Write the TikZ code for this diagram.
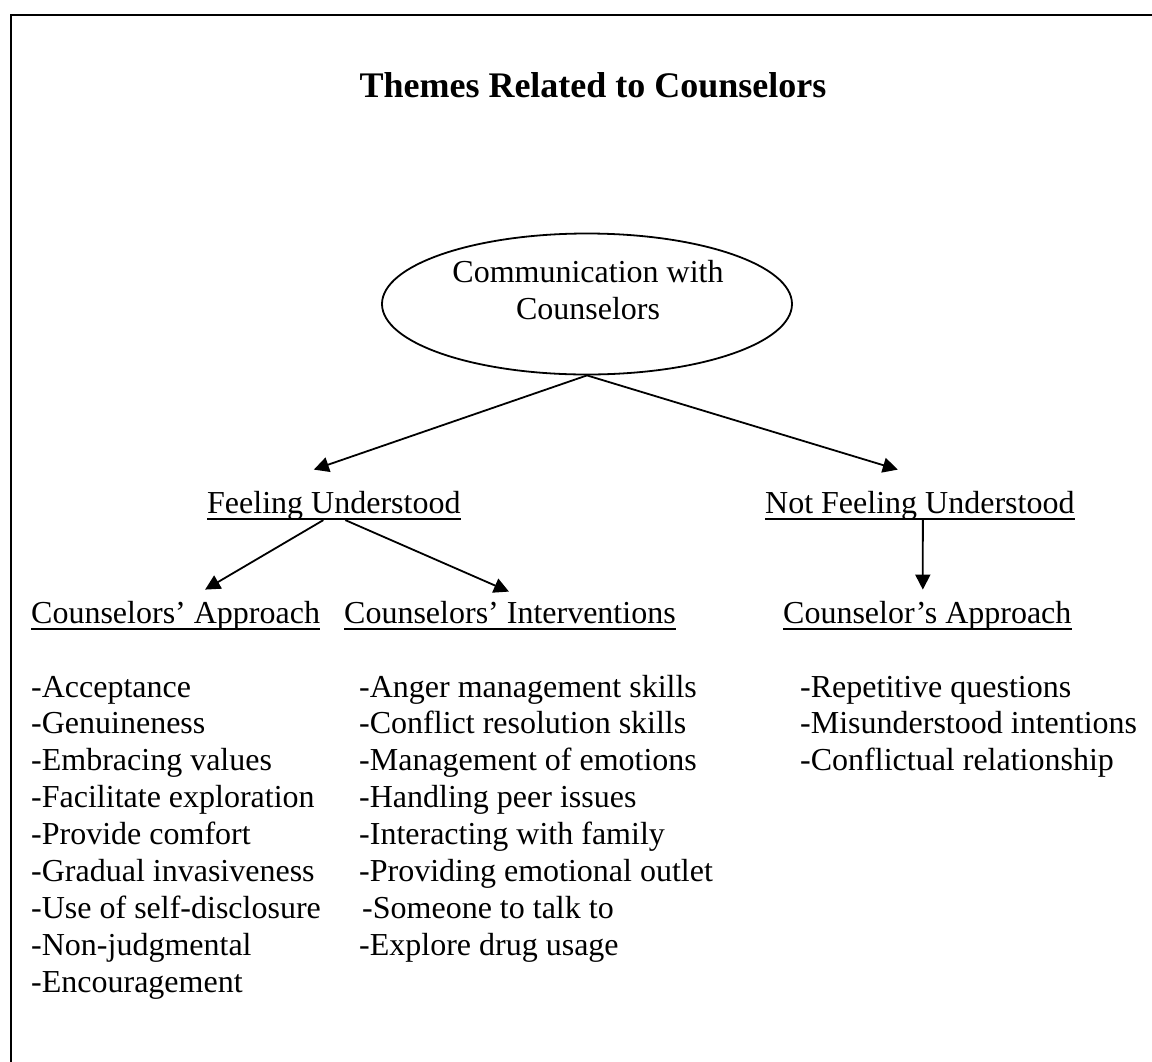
\documentclass[tikz,border=0pt]{standalone}
\usepackage{fontspec}
\setmainfont{Liberation Serif}
\usetikzlibrary{arrows.meta,shapes.geometric}
\begin{document}
\begin{tikzpicture}[x=1pt,y=-1pt,
  txt/.style={inner sep=0pt, anchor=base west, font=\fontsize{32}{37}\selectfont},
  arr/.style={line width=1.8pt, -{Triangle[length=15pt,width=15pt]}},
  ulline/.style={line width=1.6pt},
  frameline/.style={line width=2.5pt}
]
\useasboundingbox (0,0) rectangle (1152,1061);
\draw[frameline] (11,1075) -- (11,15) -- (1165,15);

\node[inner sep=0pt, anchor=base, font=\fontsize{36}{40}\selectfont\bfseries] (title) at (593,97) {Themes Related to Counselors};

\node[ellipse, draw, line width=1.8pt, minimum width=410pt, minimum height=141pt, inner sep=0pt] (comm) at (587,304) {};
\node[txt, anchor=center, align=center] (commtxt) at (588,290) {Communication with\\Counselors};

\node[txt] (fu) at (207,513) {Feeling Understood};
\node[txt] (nfu) at (765,513) {Not Feeling Understood};
\node[txt] (ca) at (31,623) {Counselors’ Approach};
\node[txt] (ci) at (344,623) {Counselors’ Interventions\hspace{8pt}};
\node[txt] (cpa) at (783,623) {Counselor’s Approach};

\foreach \n in {fu,nfu,ca,ci,cpa}
  \draw[ulline] ([yshift=-6pt]\n.base west) -- ([yshift=-6pt]\n.base east);

\draw[arr] (comm.south) -- ([xshift=-20pt,yshift=21pt]fu.north);
\draw[arr] (comm.south) -- ([xshift=-22pt,yshift=21pt]nfu.north);
\draw[arr] ([xshift=-10.5pt]fu.south) -- ([xshift=29.5pt,yshift=11pt]ca.north);
\draw[arr] ([xshift=11.5pt]fu.south) -- ([xshift=-1pt,yshift=9pt]ci.north);
\draw[arr] ([xshift=3pt]nfu.south) -- ([xshift=-4.5pt,yshift=11pt]cpa.north);

\foreach \t [count=\i] in {-Acceptance,-Genuineness,-Embracing values,-Facilitate exploration,-Provide comfort,-Gradual invasiveness,-Use of self-disclosure,-Non-judgmental,-Encouragement}
  \node[txt] (a\i) at (31,{697+36.9*(\i-1)}) {\t};

\foreach \t/\dx [count=\i] in {-Anger management skills/0,-Conflict resolution skills/0,-Management of emotions/0,-Handling peer issues/0,-Interacting with family/0,-Providing emotional outlet/0,-Someone to talk to/3,-Explore drug usage/0}
  \node[txt] (b\i) at ({359+\dx},{697+36.9*(\i-1)}) {\t};

\foreach \t [count=\i] in {-Repetitive questions,-Misunderstood intentions,-Conflictual relationship}
  \node[txt] (c\i) at (800,{697+36.9*(\i-1)}) {\t};
\end{tikzpicture}
\end{document}
